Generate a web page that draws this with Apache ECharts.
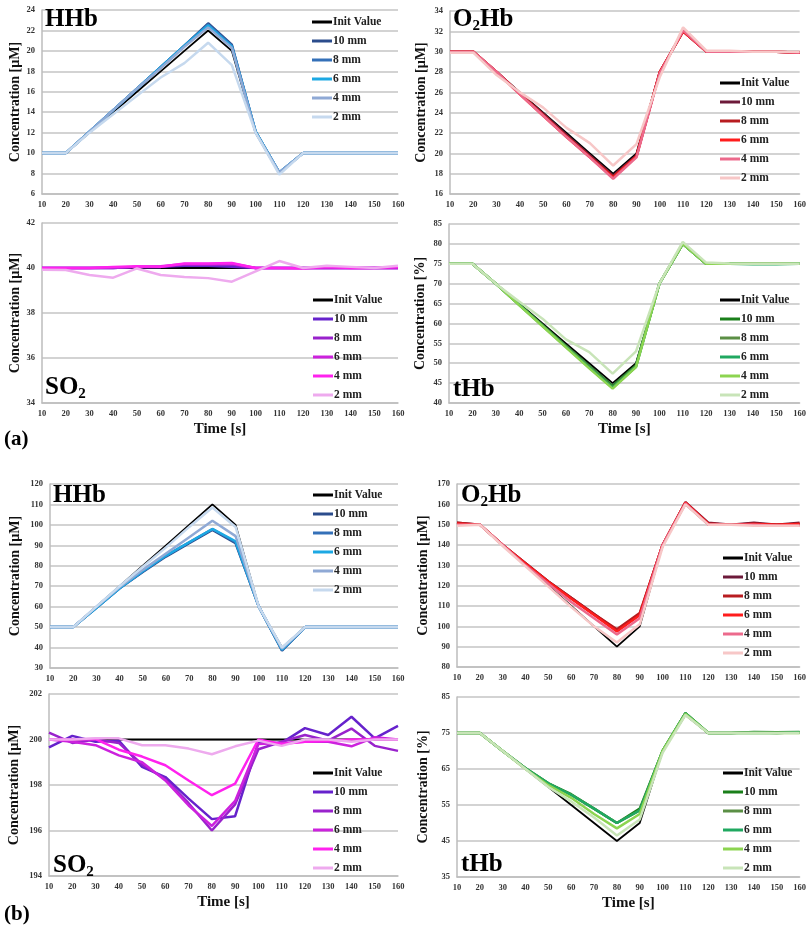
<!DOCTYPE html>
<html><head><meta charset="utf-8">
<script src="https://cdn.jsdelivr.net/npm/echarts@6/dist/echarts.min.js"></script>
<style>html,body{margin:0;padding:0;background:#fff}#c{width:809px;height:928px}</style>
</head><body><div id="c"></div>
<script>
const time = [10,20,30,40,50,60,70,80,90,100,110,120,130,140,150,160];
const seriesNames = ['Init Value','10 mm','8 mm','6 mm','4 mm','2 mm'];

// (a) HHb
const aHHb_init = [10,10,12,14,16,18,20,22,20,12,8,10,10,10,10,10];
const aHHb_10 = [10,10,12.1,14.2,16.3,18.4,20.5,22.7,20.6,12.1,8.1,10,10,10,10,10];
const aHHb_8 = [10,10,12.1,14.2,16.3,18.4,20.5,22.6,20.5,12.1,8.1,10,10,10,10,10];
const aHHb_6 = [10,10,12.1,14.2,16.3,18.4,20.5,22.5,20.4,12.1,8.1,10,10,10,10,10];
const aHHb_4 = [10,10,12.1,14.2,16.3,18.3,20.4,22.3,20.3,12,8.1,10,10,10,10,10];
const aHHb_2 = [10,10,12,13.8,15.6,17.4,18.8,20.8,18.6,12,7.9,10,10,10,10,10];
// (a) O2Hb
const aO2_init = [30,30,28,26,24,22,20,18,20,28,32,30,30,30,30,30];
const aO2_10 = [30,30,28,25.9,23.9,21.8,19.8,17.8,19.8,28,32,30,30,30,30,29.9];
const aO2_8 = [30,30,28,25.9,23.8,21.7,19.7,17.7,19.7,28,32,30,30,30,30,29.9];
const aO2_6 = [30,30,28,25.8,23.7,21.6,19.6,17.6,19.7,28,32,30,30,30,30,29.9];
const aO2_4 = [30,30,28,25.8,23.7,21.6,19.6,17.5,19.6,27.9,32.1,30,30,30,30,29.9];
const aO2_2 = [29.9,29.9,27.7,26,24.5,22.5,21,18.8,20.9,27.5,32.4,30.1,30.1,30,30,30];
// (a) SO2
const aSO2_init = [40,40,40,40,40,40,40,40,40,40,40,40,40,40,40,40];
const aSO2_10 = [40,40,40,40,40.05,40.05,40.1,40.1,40.05,40,40,40,40,40,40,40];
const aSO2_8 = [40,40,40,40,40.05,40.05,40.15,40.15,40.15,40,40,40,40,40,40,40];
const aSO2_6 = [40,40,40,40.02,40.05,40.08,40.18,40.18,40.2,40,40,40,40,40,40,40];
const aSO2_4 = [40,40,40,40.05,40.08,40.06,40.2,40.2,40.22,40,40,39.98,40.05,40,40,40.05];
const aSO2_2 = [39.92,39.91,39.69,39.57,39.98,39.69,39.6,39.55,39.39,39.85,40.31,40,40.1,40.05,40,40.1];
// (a) tHb
const aTHb_init = [75,75,70,65,60,55,50,45,50,70,80,75,75,75,75,75];
const aTHb_10 = [75,75,70,64.8,59.6,54.4,49.3,44.3,49.5,70,80,75,75,75,75,75];
const aTHb_8 = [75,75,70,64.7,59.5,54.3,49.1,44,49.3,70,80,75,75,75,75,75];
const aTHb_6 = [75,75,70,64.7,59.4,54.1,48.9,43.8,49.1,70,80,75,75,74.9,74.9,75];
const aTHb_4 = [75,75,70,64.6,59.3,54,48.7,43.6,49,70,80,75,75,75,75,75];
const aTHb_2 = [75,75,70,65.5,61.2,56,52.8,47.4,53,70,80.5,75.3,75.1,75,75,75];
// (b) HHb
const bHHb_init = [50,50,60,70,80,90,100,110,100,60,40,50,50,50,50,50];
const bHHb_10 = [50,50,59.5,69,77,84.5,91,97.5,91,60,38.5,50,50,50,50,50];
const bHHb_8 = [50,50,59.5,69,77.2,85,91.5,98,91.5,60,38.8,50,50,50,50,50];
const bHHb_6 = [50,50,59.5,69,77.5,85,91.5,98,92,60,39,50,50,50,50,50];
const bHHb_4 = [50,50,60,69.5,78,86,94,102,94.5,60,39.5,50,50,50,50,50];
const bHHb_2 = [50,50,60,70,79.5,89,99,108.5,99,60,40,50,50,50,50,50];
// (b) O2Hb
const bO2_init = [150,150,140,130,120,110,100,90,100,140,160,150,150,150,150,150];
const bO2_10 = [151,150,140,131,122,114,106,98,106,140,161,151,150,151,150,151];
const bO2_8 = [151,150,140,131,122,114,106,98.5,106.5,140,161,150.5,150,150.5,150,150.5];
const bO2_6 = [150.5,150,140,130.8,121.8,113.6,105.6,97.5,105.5,140,160.8,150.5,150,150.3,150,150.3];
const bO2_4 = [150,150,140,130,121,112,104,96,104,140,160.5,150,150,150,149.5,149.5];
const bO2_2 = [149.5,150,139.5,129.5,119.5,109.5,100,92,101,139,160,150,150,149.5,149.5,149.5];
// (b) SO2
const bSO2_init = [200,200,200,200,200,200,200,200,200,200,200,200,200,200,200,200];
const bSO2_10 = [199.65,200.16,199.9,199.95,198.8,198.35,197.4,196.5,196.63,199.87,199.85,200.5,200.2,201.0,200.05,200.6];
const bSO2_8 = [200.3,199.85,200.0,199.85,198.9,198.25,197.2,196.0,197.15,199.57,199.9,200.2,199.95,200.48,199.72,199.5];
const bSO2_6 = [200.0,199.9,199.75,199.3,199.0,198.2,197.1,196.2,197.3,199.8,199.85,199.9,199.9,199.7,200.1,200.0];
const bSO2_4 = [200.0,200.0,200.02,199.55,199.25,198.87,198.2,197.55,198.06,200.0,199.8,199.9,199.95,200.0,200.0,200.0];
const bSO2_2 = [200.0,200.0,200.05,200.05,199.75,199.75,199.6,199.35,199.7,199.95,199.72,200.0,200.0,199.9,200.0,200.0];
// (b) tHb
const bTHb_init = [75,75,70,65,60,55,50,45,50,70,80,75,75,75,75,75];
const bTHb_10 = [75,75,70,65.2,61,58,54,50,54,70,80.5,75,75,75.3,75.2,75.3];
const bTHb_8 = [75,75,70,65.2,61,57.8,54,50,53.5,70,80.5,75,75,75.2,75,75.2];
const bTHb_6 = [75,75,70,65.2,61,57.8,54,50,53.5,70,80.5,75,75,75.1,75,75.2];
const bTHb_4 = [75,75,70,65,60.5,57,52.5,48.5,52.5,70,80.3,75,75,75,75,75];
const bTHb_2 = [75,75,70,65,60,56,51.5,46.5,51,69.5,80,75,75,75,75,75];

const hhbColors = ['#000000','#2b4c8c','#3470b8','#1ca8e3','#8fa9d5','#c6d9ee'];
const o2Colors = ['#000000','#6d1a3a','#b81c20','#ff1c1c','#ec6a8c','#f7c7c7'];
const so2Colors = ['#000000','#6622cc','#9922cc','#cc22dd','#ff22ee','#eeaaee'];
const thbColors = ['#000000','#1a7f1a','#5b8f45','#20a860','#8cd450','#c8e4b8'];

const SERIF = '"Liberation Serif","Times New Roman",serif';

const panels = [
  {key:'aHHb', data:[aHHb_init,aHHb_10,aHHb_8,aHHb_6,aHHb_4,aHHb_2], colors:hhbColors,
   grid:{left:42,top:10,width:356,height:184}, y:[6,24,2], yname:'Concentration [µM]', ngap:20,
   legend:{left:312,top:16}, title:{text:'{t|HHb}', left:45, top:6}, xname:false},
  {key:'aO2', data:[aO2_init,aO2_10,aO2_8,aO2_6,aO2_4,aO2_2], colors:o2Colors,
   grid:{left:450,top:11,width:352,height:183}, y:[16,34,2], yname:'Concentration [µM]', ngap:22,
   legend:{left:720,top:77}, title:{text:'{t|O}{s|2}{t|Hb}', left:453, top:6}, xname:false},
  {key:'aSO2', data:[aSO2_init,aSO2_10,aSO2_8,aSO2_6,aSO2_4,aSO2_2], colors:so2Colors,
   grid:{left:42,top:223,width:356,height:180}, y:[34,42,2], yname:'Concentration [µM]', ngap:20,
   legend:{left:313,top:294}, title:{text:'{t|SO}{s|2}', left:45, top:374}, xname:true},
  {key:'aTHb', data:[aTHb_init,aTHb_10,aTHb_8,aTHb_6,aTHb_4,aTHb_2], colors:thbColors,
   grid:{left:449,top:224,width:353,height:179}, y:[40,85,5], yname:'Concentration [%]', ngap:22,
   legend:{left:720,top:294}, title:{text:'{t|tHb}', left:453, top:376}, xname:true},
  {key:'bHHb', data:[bHHb_init,bHHb_10,bHHb_8,bHHb_6,bHHb_4,bHHb_2], colors:hhbColors,
   grid:{left:50,top:484,width:348,height:184}, y:[30,120,10], yname:'Concentration [µM]', ngap:28,
   legend:{left:313,top:489}, title:{text:'{t|HHb}', left:53, top:482}, xname:false},
  {key:'bO2', data:[bO2_init,bO2_10,bO2_8,bO2_6,bO2_4,bO2_2], colors:o2Colors,
   grid:{left:457,top:484,width:350,height:183}, y:[80,170,10], yname:'Concentration [µM]', ngap:27,
   legend:{left:723,top:552}, title:{text:'{t|O}{s|2}{t|Hb}', left:461, top:482}, xname:false},
  {key:'bSO2', data:[bSO2_init,bSO2_10,bSO2_8,bSO2_6,bSO2_4,bSO2_2], colors:so2Colors,
   grid:{left:49,top:694,width:349,height:182}, y:[194,202,2], yname:'Concentration [µM]', ngap:28,
   legend:{left:313,top:767}, title:{text:'{t|SO}{s|2}', left:53, top:852}, xname:true},
  {key:'bTHb', data:[bTHb_init,bTHb_10,bTHb_8,bTHb_6,bTHb_4,bTHb_2], colors:thbColors,
   grid:{left:457,top:697,width:350,height:180}, y:[35,85,10], yname:'Concentration [%]', ngap:27,
   legend:{left:723,top:767}, title:{text:'{t|tHb}', left:461, top:851}, xname:true}
];

const option = {
  backgroundColor:'#fff', animation:false,
  grid:[], xAxis:[], yAxis:[], series:[], legend:[],
  title:[
    {text:'(a)', left:4, top:429, padding:0, textStyle:{fontFamily:SERIF, fontWeight:'bold', fontSize:21, color:'#000'}},
    {text:'(b)', left:4, top:904, padding:0, textStyle:{fontFamily:SERIF, fontWeight:'bold', fontSize:21, color:'#000'}}
  ]
};

panels.forEach((p,i)=>{
  option.grid.push(Object.assign({containLabel:false}, p.grid));
  option.xAxis.push({
    type:'value', gridIndex:i, min:10, max:160, interval:10,
    axisLine:{show:true, lineStyle:{color:'#bdbdbd', width:1.5}},
    axisTick:{show:false}, splitLine:{show:false},
    axisLabel:{fontFamily:SERIF, fontWeight:'bold', fontSize:8.5, color:'#333', margin:6},
    name: p.xname ? 'Time [s]' : '', nameLocation:'middle', nameGap:19,
    nameTextStyle:{fontFamily:SERIF, fontWeight:'bold', fontSize:15, color:'#111'}
  });
  option.yAxis.push({
    type:'value', gridIndex:i, min:p.y[0], max:p.y[1], interval:p.y[2],
    axisLine:{show:true, lineStyle:{color:'#bdbdbd', width:1.5}},
    axisTick:{show:false},
    splitLine:{show:true, lineStyle:{color:'#c4c4c4', width:1.5}},
    axisLabel:{fontFamily:SERIF, fontWeight:'bold', fontSize:8.5, color:'#333', margin:7},
    name:p.yname, nameLocation:'middle', nameGap:p.ngap,
    nameTextStyle:{fontFamily:SERIF, fontWeight:'bold', fontSize:14, color:'#111'}
  });
  const names = [];
  p.data.forEach((vals,k)=>{
    const nm = p.key + '|' + seriesNames[k];
    names.push(nm);
    option.series.push({
      type:'line', name:nm, xAxisIndex:i, yAxisIndex:i,
      data: time.map((t,j)=>[t, vals[j]]),
      symbol:'none', color:p.colors[k],
      lineStyle:{width: k===0 ? 1.8 : 2.5, color:p.colors[k]},
      z: 2 + k
    });
  });
  option.legend.push({
    data:names, left:p.legend.left, top:p.legend.top, orient:'vertical', padding:0,
    itemWidth:20, itemHeight:3, icon:'rect', itemGap:7,
    formatter: n => n.split('|')[1],
    textStyle:{fontFamily:SERIF, fontWeight:'bold', fontSize:11.5, color:'#222', lineHeight:12, padding:[0,0,0,-4]},
    selectedMode:false
  });
  option.title.push({
    text:p.title.text, left:p.title.left, top:p.title.top, padding:0,
    textStyle:{
      rich:{
        t:{fontFamily:SERIF, fontWeight:'bold', fontSize:25, color:'#000', lineHeight:28},
        s:{fontFamily:SERIF, fontWeight:'bold', fontSize:15, color:'#000', lineHeight:10, verticalAlign:'bottom'}
      }
    }
  });
});

const chart = echarts.init(document.getElementById('c'), null, {renderer:'canvas'});
chart.setOption(option);
</script>
</body></html>
